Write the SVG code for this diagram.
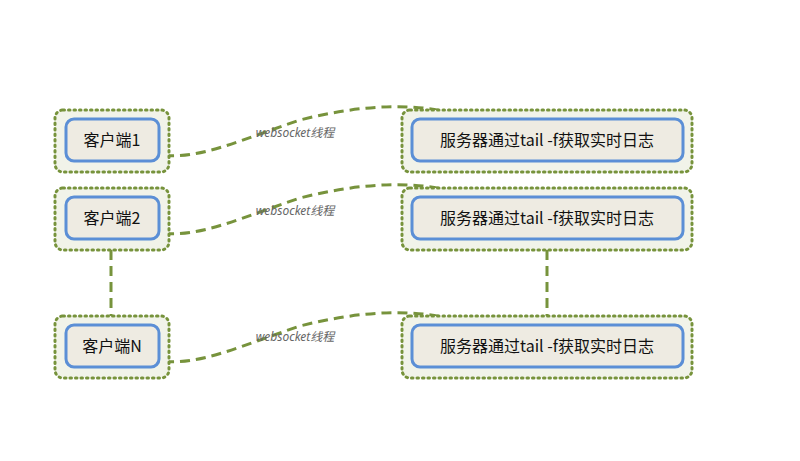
<svg xmlns="http://www.w3.org/2000/svg" width="800" height="461" viewBox="0 0 800 461">
<style>
.outer{fill:#f1f3e9;stroke:#77933c;stroke-width:3;stroke-dasharray:1.5 4;stroke-linecap:round}
.inner{fill:#eeebe2;stroke:#5b8fd6;stroke-width:3}
.t{font-family:"Noto Sans CJK SC",sans-serif;font-size:16px;fill:#111;text-anchor:middle}
.lbl{font-family:"Noto Sans","Noto Sans CJK SC",sans-serif;font-size:12px;font-style:italic;fill:#666;text-anchor:middle}
.c{fill:none;stroke:#77933c;stroke-width:3;stroke-dasharray:10 6}
</style>
<defs><marker id="a" markerWidth="10" markerHeight="10" refX="2" refY="5" orient="auto" markerUnits="userSpaceOnUse"><path d="M10,0 L0,5 L10,10 L7,5 Z" fill="#77933c"/></marker></defs>
<g id="connectors">
<path class="c" d="M111,250 V316"/>
<path class="c" d="M547,250 V316"/>
<path class="c" d="M470,119 C420,100 360,105 300,120 C240,140 200,160 160,155" marker-end="url(#a)"/>
<path class="c" d="M470,197 C420,178 360,183 300,198 C240,218 200,238 160,233" marker-end="url(#a)"/>
<path class="c" d="M470,325 C420,306 360,311 300,326 C240,346 200,366 160,361" marker-end="url(#a)"/>
<text class="lbl" x="295" y="137">websocket线程</text>
<text class="lbl" x="295" y="215">websocket线程</text>
<text class="lbl" x="295" y="341">websocket线程</text>
</g>
<g id="c1"><rect class="outer" x="55" y="110" width="114" height="62" rx="8"/><rect class="inner" x="66" y="119" width="93" height="42" rx="8"/><text class="t" x="112" y="146">客户端1</text></g>
<g id="c2"><rect class="outer" x="55" y="188" width="114" height="62" rx="8"/><rect class="inner" x="66" y="197" width="93" height="42" rx="8"/><text class="t" x="112" y="224">客户端2</text></g>
<g id="cN"><rect class="outer" x="55" y="316" width="114" height="62" rx="8"/><rect class="inner" x="66" y="325" width="93" height="42" rx="8"/><text class="t" x="112" y="352">客户端N</text></g>
<g id="s1"><rect class="outer" x="402" y="110" width="290" height="62" rx="8"/><rect class="inner" x="412" y="119" width="271" height="42" rx="8"/><text class="t" x="547" y="146">服务器通过tail -f获取实时日志</text></g>
<g id="s2"><rect class="outer" x="402" y="188" width="290" height="62" rx="8"/><rect class="inner" x="412" y="197" width="271" height="42" rx="8"/><text class="t" x="547" y="224">服务器通过tail -f获取实时日志</text></g>
<g id="sN"><rect class="outer" x="402" y="316" width="290" height="62" rx="8"/><rect class="inner" x="412" y="325" width="271" height="42" rx="8"/><text class="t" x="547" y="352">服务器通过tail -f获取实时日志</text></g>
</svg>
